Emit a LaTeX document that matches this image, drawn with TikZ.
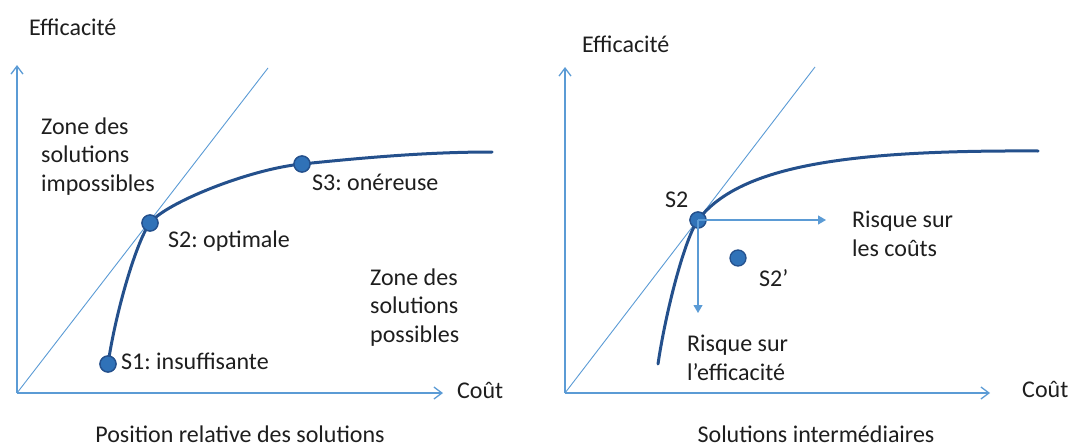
\documentclass[tikz,border=0pt]{standalone}
\usepackage{fontspec}
\setmainfont{Carlito}
\usepackage{xcolor}
\usetikzlibrary{arrows.meta, positioning}
\frenchspacing

\definecolor{axisblue}{RGB}{91,155,213}
\definecolor{curveblue}{RGB}{36,80,140}
\definecolor{dotblue}{RGB}{48,114,184}
\definecolor{txtgray}{RGB}{30,30,30}

\begin{document}
\begin{tikzpicture}[
  x=1pt, y=-1pt,
  axis/.style={draw=axisblue, line width=1.3pt, -{Straight Barb[length=8pt, width=12pt]}},
  diag/.style={draw=axisblue, line width=0.9pt},
  front/.style={draw=curveblue, line width=3pt, line cap=round},
  dot/.style={circle, draw=curveblue, fill=dotblue, line width=1.3pt, minimum size=16pt, inner sep=0pt},
  lbl/.style={inner sep=0pt, anchor=base west, align=left, text=txtgray, font=\fontsize{24}{28.5}\selectfont},
  title/.style={inner sep=0pt, anchor=base, text=txtgray, font=\fontsize{24}{28.5}\selectfont},
  arrow/.style={draw=axisblue, line width=1.1pt, -{Triangle[length=8pt, width=9pt]}}
]
  \useasboundingbox (0,0) rectangle (1070,447);

  % left graph
  \coordinate (o1) at (17,393);
  \coordinate (y1) at (17,65);
  \coordinate (x1) at (443,393);
  \coordinate (d1) at (268,68);
  \coordinate (e1) at (492,152);
  \draw[axis] (o1) -- (y1);
  \draw[axis] (o1) -- (x1);
  \draw[diag] (o1) -- (d1);

  \node[dot] (s1) at (108,364) {};
  \node[dot] (s2) at (150,223) {};
  \node[dot] (s3) at (302,164) {};
  \draw[front] (s1.center) .. controls (116,310) and (137,240) .. (s2.center)
    .. controls (165,203) and (250,169) .. (s3.center)
    .. controls (370,157) and (430,152) .. (e1);
  \node[dot] at (s1) {};
  \node[dot] at (s2) {};
  \node[dot] at (s3) {};

  \node[lbl] (eff1) at (29,35) {Efficacité};
  \node[lbl] (cout1) at (457,398) {Coût};
  % base of a multi-line node = its last line
  \node[lbl] (zimp) at (41,191) {Zone des\\solutions\\impossibles};
  \node[lbl] (zpos) at (370,342) {Zone des\\solutions\\possibles};
  \node[lbl] (l1) at (121,369) {S1: insuffisante};
  \node[lbl] (l2) at (168,247) {S2: optimale};
  \node[lbl] (l3) at (312,190) {S3: onéreuse};
  \node[title] (t1) at (240,442) {Position relative des solutions};

  % right graph
  \coordinate (o2) at (565,393);
  \coordinate (y2) at (565,67);
  \coordinate (x2) at (990,393);
  \coordinate (d2) at (815,67);
  \coordinate (b2) at (658,364);
  \coordinate (e2) at (1038,151);
  \draw[axis] (o2) -- (y2);
  \draw[axis] (o2) -- (x2);
  \draw[diag] (o2) -- (d2);

  \node[dot] (r2) at (698,220) {};
  \node[dot] (r2p) at (738,258) {};
  \draw[front] (b2) .. controls (666,310) and (685,238) .. (r2.center)
    .. controls (740,165) and (850,150) .. (e2);
  \node[dot] at (r2) {};

  \coordinate (rc) at (826,220);
  \coordinate (re) at (698,313);
  \draw[arrow] (r2.center) -- (rc);
  \draw[arrow] (r2.center) -- (re);

  \node[lbl] (eff2) at (582,52) {Efficacité};
  \node[lbl] (cout2) at (1022,397) {Coût};
  \node[lbl] (lr2) at (665,207) {S2};
  \node[lbl] (lr2p) at (759,286) {S2’};
  \node[lbl] (rcout) at (852,256) {Risque sur\\les coûts};
  \node[lbl] (reff) at (687,380) {Risque sur\\l’efficacité};
  \node[title] (t2) at (816,442) {Solutions intermédiaires};
\end{tikzpicture}
\end{document}
